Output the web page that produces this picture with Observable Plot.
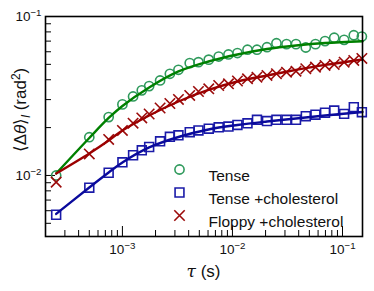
<!DOCTYPE html>
<html><head><meta charset="utf-8">
<script src="https://cdn.jsdelivr.net/npm/d3@7"></script>
<script src="https://cdn.jsdelivr.net/npm/@observablehq/plot@0.6"></script>
<style>
body{margin:0;background:#fff}
svg{font-family:"Liberation Sans",Arial,Helvetica,sans-serif}
</style>
</head><body><div id="chart"></div>
<script>
// lag times (s)
const tau = [2.5e-4, 5e-4, 7.5e-4, 1e-3, 1.25e-3, 1.5e-3, 1.75e-3, 2.2e-3, 2.7e-3, 3.23e-3,
  4.09e-3, 4.91e-3, 6.09e-3, 7.5e-3, 9.2e-3, 1.11e-2, 1.37e-2, 1.67e-2, 2.06e-2, 2.51e-2,
  3.10e-2, 3.78e-2, 4.64e-2, 5.68e-2, 6.94e-2, 8.41e-2, 0.1035, 0.1267, 0.15];
const tense = [0.0100, 0.0174, 0.0233, 0.0280, 0.0314, 0.0343, 0.0365, 0.0396, 0.0436, 0.0462,
  0.0509, 0.0516, 0.0535, 0.0560, 0.0577, 0.0589, 0.0618, 0.0618, 0.0641, 0.0679,
  0.0670, 0.0670, 0.0638, 0.0670, 0.0700, 0.0735, 0.0713, 0.0762, 0.0748];
const tenseChol = [0.00566, 0.00837, 0.0104, 0.0121, 0.0134, 0.0144, 0.0151, 0.0164, 0.0175, 0.0179,
  0.0187, 0.0192, 0.0197, 0.0201, 0.0203, 0.0208, 0.0213, 0.0224, 0.0220, 0.0224,
  0.0224, 0.0224, 0.0236, 0.0241, 0.0248, 0.0256, 0.0244, 0.0269, 0.0250];
const floppyChol = [0.00908, 0.01365, 0.01684, 0.01919, 0.02132, 0.02299, 0.02436, 0.02657, 0.02836, 0.03006,
  0.03185, 0.03374, 0.03509, 0.03681, 0.03773, 0.03929, 0.04057, 0.04152, 0.04256, 0.04363,
  0.04466, 0.04531, 0.04692, 0.04802, 0.04922, 0.04994, 0.05161, 0.05290, 0.05444];
// fitted curves
const fitTau = [2.5e-4, 5e-4, 7.5e-4, 1e-3, 1.75e-3, 3.23e-3, 6.05e-3, 1.11e-2, 2.06e-2, 3.78e-2, 6.94e-2, 0.152];
const fitTense = [0.01029, 0.01721, 0.02299, 0.02736, 0.03577, 0.04511, 0.05212, 0.05768, 0.06245, 0.06570, 0.06812, 0.06994];
const fitTenseChol = [0.005728, 0.008404, 0.01044, 0.01207, 0.01500, 0.01746, 0.01947, 0.02077, 0.02185, 0.02283, 0.02385, 0.02508];
const fitFloppyChol = [0.01029, 0.01375, 0.01660, 0.01919, 0.02385, 0.02920, 0.03449, 0.03901, 0.04256, 0.04611, 0.04958, 0.05368];

const seriesNames = ["Tense", "Tense +cholesterol", "Floppy +cholesterol"];
const xMajor = [1e-3, 1e-2, 1e-1];
const xMajorLabels = ["10^−3", "10^−2", "10^−1"];
const xMinor = [3e-4,4e-4,5e-4,6e-4,7e-4,8e-4,9e-4, 2e-3,3e-3,4e-3,5e-3,6e-3,7e-3,8e-3,9e-3, 2e-2,3e-2,4e-2,5e-2,6e-2,7e-2,8e-2,9e-2];
const yMajor = [1e-2, 1e-1];
const yMajorLabels = ["10^−2", "10^−1"];
const yMinor = [5e-3,6e-3,7e-3,8e-3,9e-3, 2e-2,3e-2,4e-2,5e-2,6e-2,7e-2,8e-2,9e-2];

const C_G = "#008000", C_GM = "#2f9a5c";
const C_B = "#0a0a9c", C_BM = "#1a1aa8";
const C_R = "#9b0000", C_RM = "#9b0a0a";

const pts = (ys) => tau.map((t, i) => ({t, v: ys[i]}));
const fit = (ys) => fitTau.map((t, i) => ({t, v: ys[i]}));

const W = 374, H = 291, mL = 45, mR = 12, mT = 16, mB = 55;
const fh = H - mT - mB, fw = W - mL - mR;

const legend = [
  {name: seriesNames[0], symbol: "circle", color: C_GM, r: 4.6, dy: 153},
  {name: seriesNames[1], symbol: "square", color: C_BM, r: 5, dy: 176},
  {name: seriesNames[2], symbol: "times", color: C_RM, r: 4.8, dy: 199}
];
const legendMarks = legend.flatMap(d => [
  Plot.dot([d], {frameAnchor: "top-left", dx: 134, dy: d.dy, symbol: d.symbol, stroke: d.color, r: d.r, strokeWidth: 1.6, fill: "none"}),
  Plot.text([d], {frameAnchor: "top-left", dx: 163, dy: d.dy, text: "name", textAnchor: "start", fontSize: 15.5, fill: "#111"})
]);

const chart = Plot.plot({
  width: W, height: H,
  marginLeft: mL, marginRight: mR, marginTop: mT, marginBottom: mB,
  style: {background: "#fff", fontFamily: "Liberation Sans, Arial, sans-serif"},
  x: {type: "log", domain: [2e-4, 0.152], axis: null},
  y: {type: "log", domain: [0.00413, 0.1], axis: null},
  marks: [
    // ticks (inward)
    Plot.ruleX(xMinor, {x: d => d, insetTop: fh - 6, stroke: "#000", strokeWidth: 1}),
    Plot.ruleX(xMajor, {x: d => d, insetTop: fh - 10, stroke: "#000", strokeWidth: 1}),
    Plot.ruleY(yMinor, {y: d => d, insetRight: fw - 6, stroke: "#000", strokeWidth: 1}),
    Plot.ruleY(yMajor, {y: d => d, insetRight: fw - 10, stroke: "#000", strokeWidth: 1}),
    // markers
    Plot.dot(pts(tense), {x: "t", y: "v", symbol: "circle", r: 4.6, stroke: C_GM, strokeWidth: 1.6, fill: "none"}),
    Plot.dot(pts(tenseChol), {x: "t", y: "v", symbol: "square", r: 5, stroke: C_BM, strokeWidth: 1.6, fill: "none"}),
    Plot.dot(pts(floppyChol), {x: "t", y: "v", symbol: "times", r: 4.8, stroke: C_RM, strokeWidth: 1.6, fill: "none"}),
    // fits
    Plot.line(fit(fitTense), {x: "t", y: "v", stroke: C_G, strokeWidth: 2.4, curve: "catmull-rom"}),
    Plot.line(fit(fitTenseChol), {x: "t", y: "v", stroke: C_B, strokeWidth: 2.4, curve: "catmull-rom"}),
    Plot.line(fit(fitFloppyChol), {x: "t", y: "v", stroke: C_R, strokeWidth: 2.4, curve: "catmull-rom"}),
    // tick labels
    Plot.text(xMajor, {x: d => d, frameAnchor: "bottom", dy: 17, text: (d, i) => xMajorLabels[i], fontSize: 13.5, fill: "#111"}),
    Plot.text(yMajor, {y: d => d, frameAnchor: "left", dx: -4, textAnchor: "end", text: (d, i) => yMajorLabels[i], fontSize: 13.5, fill: "#111"}),
    ...legendMarks,
    Plot.frame({stroke: "#000", strokeWidth: 1.6})
  ]
});

// superscripts in tick labels
const ns = "http://www.w3.org/2000/svg";
chart.querySelectorAll("text").forEach(t => {
  const s = t.textContent;
  if (!s.includes("^")) return;
  const [b, e] = s.split("^");
  while (t.firstChild) t.removeChild(t.firstChild);
  t.appendChild(document.createTextNode(b));
  const ts = document.createElementNS(ns, "tspan");
  ts.setAttribute("dy", "-0.5em");
  ts.setAttribute("font-size", "0.72em");
  ts.textContent = e;
  t.appendChild(ts);
});

// axis labels
const svg = d3.select(chart);
const xl = svg.append("text").attr("x", mL + fw / 2).attr("y", 277)
  .attr("text-anchor", "middle").attr("font-size", 17).attr("fill", "#111");
xl.append("tspan").attr("font-style", "italic").attr("font-family", "DejaVu Serif, serif").text("τ");
xl.append("tspan").text(" (s)");

const yl = svg.append("text").attr("transform", "translate(26,110) rotate(-90)")
  .attr("text-anchor", "middle").attr("font-size", 17).attr("fill", "#111");
yl.append("tspan").text("⟨Δ");
yl.append("tspan").attr("font-style", "italic").text("θ");
yl.append("tspan").text("⟩");
yl.append("tspan").attr("font-size", 12).attr("font-style", "italic").attr("dy", 4).text("l");
yl.append("tspan").attr("dy", -4).text(" (rad");
yl.append("tspan").attr("font-size", 12).attr("dy", -6).text("2");
yl.append("tspan").attr("dy", 6).text(")");

document.getElementById("chart").appendChild(chart);
</script>
</body></html>
